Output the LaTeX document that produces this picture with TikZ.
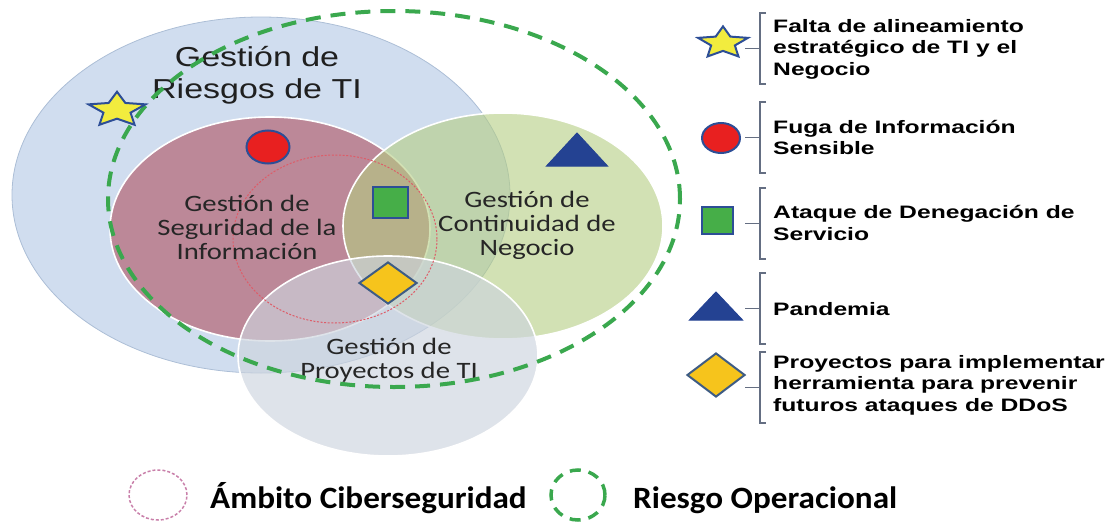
\documentclass[tikz,border=0pt]{standalone}
\usepackage{fontspec}
\setmainfont{Liberation Sans}
\newfontfamily\titlefam[FakeStretch=1.24]{Liberation Sans}
\newfontfamily\boxfam[FakeStretch=1.37]{Liberation Sans}
\newfontfamily\venfam[FakeStretch=1.22]{Carlito}
\newfontfamily\keyfam[FakeStretch=1.07]{Carlito}
\usetikzlibrary{shapes.geometric}

\definecolor{riskblue}{RGB}{208,221,239}
\definecolor{riskedge}{RGB}{172,190,214}
\definecolor{secred}{RGB}{188,136,152}
\definecolor{contgreen}{RGB}{180,205,130}
\definecolor{projgray}{RGB}{205,212,222}
\definecolor{opgreen}{RGB}{58,168,78}
\definecolor{cyberred}{RGB}{222,92,104}
\definecolor{markblue}{RGB}{45,78,150}
\definecolor{staryellow}{RGB}{242,236,62}
\definecolor{dotred}{RGB}{232,32,32}
\definecolor{sqgreen}{RGB}{70,174,72}
\definecolor{triblue}{RGB}{36,66,146}
\definecolor{diayellow}{RGB}{246,196,28}
\definecolor{diaedge}{RGB}{62,92,132}
\definecolor{bracegray}{RGB}{100,110,130}

\begin{document}
\begin{tikzpicture}[x=1pt,y=-1pt]

	\tikzstyle{zone}=[draw=white,line width=1.6pt]
	\tikzstyle{opline}=[opgreen,line width=4pt,dash pattern=on 15pt off 10pt]
	\tikzstyle{cyberline}=[cyberred,line width=1pt,dash pattern=on 2pt off 1.6pt]
	\tikzstyle{brace}=[bracegray,line width=1.1pt]
	\tikzstyle{titletext}=[align=center,text=black!88,font=\titlefam\fontsize{27.4}{32}\selectfont]
	\tikzstyle{zonetext}=[align=center,text=black!85,font=\venfam\fontsize{23.5}{24}\selectfont]
	\tikzstyle{boxtext}=[align=left,anchor=west,inner sep=0pt,font=\boxfam\bfseries\fontsize{18}{21.5}\selectfont]
	\tikzstyle{keytext}=[anchor=base west,inner sep=0pt,font=\keyfam\bfseries\fontsize{31}{36}\selectfont]
	\tikzstyle{mstar}=[star,star points=5,star point ratio=2.1,fill=staryellow,draw=markblue,line width=2pt,inner sep=0pt]
	\tikzstyle{mdot}=[ellipse,fill=dotred,draw=markblue,line width=2pt,inner sep=0pt]
	\tikzstyle{msquare}=[rectangle,fill=sqgreen,draw=markblue,line width=2pt,inner sep=0pt]
	\tikzstyle{mtri}=[regular polygon,regular polygon sides=3,fill=triblue,draw=triblue,line width=1pt,inner sep=0pt]
	\tikzstyle{mdiam}=[diamond,fill=diayellow,draw=diaedge,line width=2pt,inner sep=0pt]

	\useasboundingbox (0,0) rectangle (1113,522);

	% zonas
	\fill[riskblue,draw=riskedge,line width=.8pt] (261,195) ellipse [x radius=249pt,y radius=178pt];
	\fill[secred,zone] (270,229) ellipse [x radius=160pt,y radius=112pt];
	\fill[contgreen,fill opacity=.6,zone] (503,226) ellipse [x radius=160pt,y radius=113pt];
	\fill[projgray,fill opacity=.65,zone] (388,356) ellipse [x radius=150pt,y radius=100pt];
	\draw[cyberline] (335,239) ellipse [x radius=102pt,y radius=84pt];

	\node[titletext] (riesgos) at (257,75) {Gestión de\\Riesgos de TI};
	\node[zonetext] (seguridad) at (247,227) {Gestión de\\Seguridad de la\\Información};
	\node[zonetext] (continuidad) at (527,225) {Gestión de\\Continuidad de\\Negocio};
	\node[zonetext] (proyectos) at (389,360) {Gestión de\\Proyectos de TI};

	\draw[opline] (394,199) ellipse [x radius=286pt,y radius=188pt];

	\node[mstar,minimum size=36.5pt,xscale=1.64] (estrella) at (117,110) {};
	\node[mdot,minimum width=43pt,minimum height=33pt] (fuga) at (268,147) {};
	\node[msquare,minimum width=35pt,minimum height=31pt] (ataque) at (390,202) {};
	\node[mtri,minimum size=44pt,xscale=1.6] (pandemia) at (577,155) {};
	\node[mdiam,aspect=1.32,minimum width=58pt,minimum height=42pt] (herram) at (388,283) {};

	% leyenda
	\foreach \t [count=\i] in {13,102,188,273,352}{
		\draw[brace] (766,\t) -- (760,\t) -- (760,\t+71) -- (766,\t+71);
		\coordinate (brk\i) at (760,\t+35.5);
		\draw[brace] (brk\i) -- +(-15,0);
	}

	\node[mstar,minimum size=33.2pt,xscale=1.58] (lestrella) at (723,43) {};
	\node[mdot,minimum width=38pt,minimum height=30pt] (lfuga) at (721,138) {};
	\node[msquare,minimum width=31pt,minimum height=27pt] (lataque) at (717,220) {};
	\node[mtri,minimum size=37.4pt,xscale=1.64] (lpandemia) at (716,310.7) {};
	\node[mdiam,aspect=1.32,minimum width=58pt,minimum height=44pt] (lherram) at (716,375) {};

	\node[boxtext] (t1) at (773,49) {Falta de alineamiento\\estratégico de TI y el\\Negocio};
	\node[boxtext] (t2) at (773,137.5) {Fuga de Información\\Sensible};
	\node[boxtext] (t3) at (773,223) {Ataque de Denegación de\\Servicio};
	\node[boxtext] (t4) at (773,309) {Pandemia};
	\node[boxtext] (t5) at (773,385) {Proyectos para implementar\\herramienta para prevenir\\futuros ataques de DDoS};
%
	\draw[cyberred!80!blue!70,line width=1.5pt,dash pattern=on 3pt off 2pt] (158,495) ellipse [x radius=29pt,y radius=25pt];
	\node[keytext] (ambito) at (210,508) {Ámbito Ciberseguridad};
	\draw[opgreen,line width=3.5pt,dash pattern=on 11pt off 8pt] (578,495) ellipse [x radius=27pt,y radius=25pt];
	\node[keytext] (operacional) at (633,508) {Riesgo Operacional};
\end{tikzpicture}
\end{document}
